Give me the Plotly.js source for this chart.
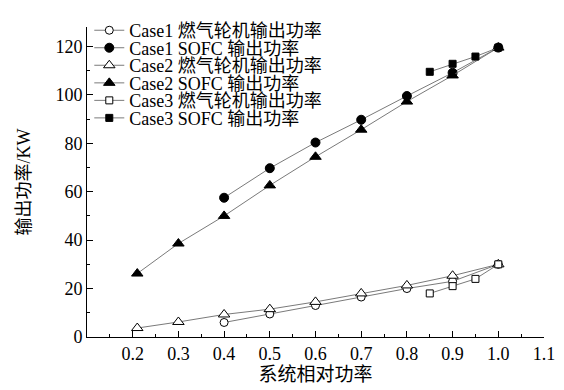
<!DOCTYPE html>
<html>
<head>
<meta charset="utf-8">
<script src="https://cdn.plot.ly/plotly-3.0.1.min.js"></script>
<style>html,body{margin:0;padding:0;background:#fff;}#chart{width:564px;height:390px;}</style>
</head>
<body>
<div id="chart"></div>
<script>
// Data
const xCase1 = [0.4, 0.5, 0.6, 0.7, 0.8, 0.9, 1.0];
const case1GT = [6, 9.5, 13, 16.5, 20, 23, 30];
const case1SOFC = [57.5, 69.7, 80.3, 89.7, 99.5, 109.1, 119.5];

const xCase2 = [0.21, 0.3, 0.4, 0.5, 0.6, 0.7, 0.8, 0.9, 1.0];
const case2GT = [3.7, 6.2, 9.3, 11.5, 14.5, 18, 21.3, 25.3, 30];
const case2SOFC = [26.2, 38.6, 50, 62.6, 74.4, 85.6, 97.2, 108, 119.5];

const xCase3 = [0.85, 0.9, 0.95, 1.0];
const case3GT = [18, 21, 24, 30];
const case3SOFC = [109.5, 112.8, 115.8, 119.5];

const seriesNames = [
  'Case1 燃气轮机输出功率', 'Case1 SOFC 输出功率',
  'Case2 燃气轮机输出功率', 'Case2 SOFC 输出功率',
  'Case3 燃气轮机输出功率', 'Case3 SOFC 输出功率'
];

const xTickVals = [0.2, 0.3, 0.4, 0.5, 0.6, 0.7, 0.8, 0.9, 1.0, 1.1];
const xTickText = ['0.2', '0.3', '0.4', '0.5', '0.6', '0.7', '0.8', '0.9', '1.0', '1.1'];
const yTickVals = [0, 20, 40, 60, 80, 100, 120];

const FONT = 'Liberation Serif, Times New Roman, Noto Sans CJK SC, serif';
const lineStyle = {color: '#7a7a7a', width: 1};

function mk(x, y, name, symbol, size, filled, idx) {
  return {
    x: x, y: y, name: name, type: 'scatter', mode: 'lines+markers',
    line: lineStyle,
    marker: {symbol: symbol, size: size, color: filled ? '#000' : '#fff',
             line: {color: '#000', width: 1}},
    legend: idx === 0 ? 'legend' : 'legend' + (idx + 1)
  };
}

const traces = [
  mk(xCase1, case1GT, seriesNames[0], 'circle', 8, false, 0),
  mk(xCase1, case1SOFC, seriesNames[1], 'circle', 9, true, 1),
  mk(xCase2, case2GT, seriesNames[2], 'triangle-up', 10, false, 2),
  mk(xCase2, case2SOFC, seriesNames[3], 'triangle-up', 10, true, 3),
  mk(xCase3, case3GT, seriesNames[4], 'square', 7, false, 4),
  mk(xCase3, case3SOFC, seriesNames[5], 'square', 7, true, 5)
];

const PLOT_TOP = 13, PLOT_BOTTOM = 337;
const rowY = [16.7, 35, 53.3, 71.7, 90, 108.3];
const layout = {
  width: 564, height: 390,
  margin: {l: 87, r: 20, t: PLOT_TOP, b: 390 - PLOT_BOTTOM},
  paper_bgcolor: '#fff', plot_bgcolor: '#fff',
  font: {family: FONT, size: 18, color: '#000'},
  xaxis: {
    range: [0.1, 1.1], showgrid: false, zeroline: false,
    showline: true, linecolor: '#000', linewidth: 1,
    ticks: 'inside', ticklen: 6, tickcolor: '#000', tickwidth: 1,
    tickmode: 'array', tickvals: xTickVals, ticktext: xTickText,
    tickfont: {family: FONT, size: 18},
    minor: {dtick: 0.05, tick0: 0.1, ticks: 'inside', ticklen: 3, tickcolor: '#000', showgrid: false},
    title: {text: '系统相对功率', font: {family: FONT, size: 19}, standoff: 2}
  },
  yaxis: {
    range: [0, 128], showgrid: false, zeroline: false,
    showline: true, linecolor: '#000', linewidth: 1,
    ticks: 'inside', ticklen: 6, tickcolor: '#000', tickwidth: 1,
    tickmode: 'array', tickvals: yTickVals,
    tickfont: {family: FONT, size: 18},
    minor: {dtick: 10, tick0: 0, ticks: 'inside', ticklen: 3, tickcolor: '#000', showgrid: false},
    title: {text: '输出功率/KW', font: {family: FONT, size: 18}, standoff: 20}
  },
  showlegend: true
};
rowY.forEach((py, i) => {
  const key = i === 0 ? 'legend' : 'legend' + (i + 1);
  layout[key] = {
    x: 0.005, y: (PLOT_BOTTOM - py) / (PLOT_BOTTOM - PLOT_TOP), xref: 'paper', yref: 'paper',
    xanchor: 'left', yanchor: 'middle',
    bgcolor: 'rgba(0,0,0,0)', borderwidth: 0,
    font: {family: FONT, size: 18, color: '#000'},
    itemwidth: 30, tracegroupgap: 0
  };
});

Plotly.newPlot('chart', traces, layout, {displayModeBar: false, staticPlot: true});
</script>
</body>
</html>
